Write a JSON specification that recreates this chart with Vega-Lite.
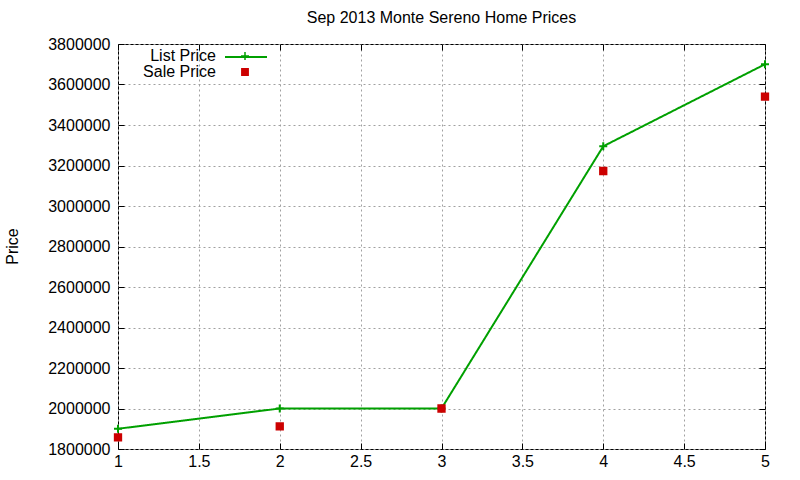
{
  "$schema": "https://vega.github.io/schema/vega-lite/v6.json",
  "autosize": "none",
  "width": 647,
  "height": 405,
  "padding": {"left": 118, "top": 44, "right": 35, "bottom": 31},
  "background": "white",
  "config": {
    "font": "Liberation Sans",
    "view": {"stroke": "black", "strokeWidth": 1},
    "axis": {
      "labelFont": "Liberation Sans",
      "labelFontSize": 16,
      "labelColor": "black",
      "labelFlush": false,
      "titleFont": "Liberation Sans",
      "titleFontSize": 16,
      "titleFontWeight": "normal",
      "titleColor": "black",
      "domain": false,
      "tickColor": "black",
      "gridColor": "#a0a0a0",
      "gridDash": [2, 3],
      "gridWidth": 1,
      "gridOpacity": 1
    }
  },
  "title": {
    "text": "Sep 2013 Monte Sereno Home Prices",
    "font": "Liberation Sans",
    "fontSize": 16,
    "fontWeight": "normal",
    "color": "black",
    "anchor": "middle",
    "offset": 9
  },
  "data": {
    "values": [
      {"x": 1, "price": 1900000, "series": "List Price"},
      {"x": 2, "price": 2000000, "series": "List Price"},
      {"x": 3, "price": 2000000, "series": "List Price"},
      {"x": 4, "price": 3295000, "series": "List Price"},
      {"x": 5, "price": 3700000, "series": "List Price"},
      {"x": 1, "price": 1857000, "series": "Sale Price"},
      {"x": 2, "price": 1912000, "series": "Sale Price"},
      {"x": 3, "price": 2000000, "series": "Sale Price"},
      {"x": 4, "price": 3173000, "series": "Sale Price"},
      {"x": 5, "price": 3540000, "series": "Sale Price"}
    ]
  },
  "layer": [
    {
      "transform": [{"filter": "datum.series == 'List Price'"}],
      "mark": {"type": "line", "color": "#00a000", "strokeWidth": 2},
      "encoding": {
        "x": {
          "field": "x", "type": "quantitative",
          "scale": {"domain": [1, 5], "nice": false, "zero": false},
          "axis": {"values": [1, 1.5, 2, 2.5, 3, 3.5, 4, 4.5, 5], "format": "~g", "title": null, "tickSize": -6, "labelPadding": 10, "grid": true}
        },
        "y": {
          "field": "price", "type": "quantitative",
          "scale": {"domain": [1800000, 3800000], "nice": false, "zero": false},
          "axis": {"values": [1800000, 2000000, 2200000, 2400000, 2600000, 2800000, 3000000, 3200000, 3400000, 3600000, 3800000], "format": "d", "title": "Price", "tickSize": -6, "labelPadding": 14, "grid": true, "titleX": -106, "titleY": 202, "titleAngle": -90, "titleBaseline": "middle", "titleAlign": "center"}
        },
        "strokeDash": {
          "field": "series", "type": "nominal",
          "scale": {"domain": ["List Price"], "range": [[1, 0]]},
          "legend": {
            "title": null,
            "orient": "none",
            "legendX": 106,
            "legendY": -9,
            "padding": 0,
            "symbolType": "stroke",
            "symbolSize": 1764,
            "symbolStrokeColor": "#00a000",
            "symbolStrokeWidth": 2,
            "labelExpr": "''"
          }
        }
      }
    },
    {
      "mark": {"type": "point", "opacity": 1, "strokeWidth": 2},
      "encoding": {
        "x": {
          "field": "x", "type": "quantitative",
          "axis": {"orient": "top", "values": [1, 1.5, 2, 2.5, 3, 3.5, 4, 4.5, 5], "labels": false, "title": null, "tickSize": -6, "grid": false}
        },
        "y": {
          "field": "price", "type": "quantitative",
          "axis": {"orient": "right", "values": [1800000, 2000000, 2200000, 2400000, 2600000, 2800000, 3000000, 3200000, 3400000, 3600000, 3800000], "labels": false, "title": null, "tickSize": -6, "grid": false}
        },
        "shape": {
          "field": "series", "type": "nominal",
          "scale": {"domain": ["List Price", "Sale Price"], "range": ["M-1,0L1,0M0,-1L0,1", "square"]},
          "legend": {
            "title": null,
            "orient": "none",
            "legendX": 119,
            "legendY": 4,
            "padding": 0,
            "rowPadding": 0,
            "labelFont": "Liberation Sans",
            "labelFontSize": 16,
            "labelColor": "black",
            "labelAlign": "right",
            "labelOffset": -37
          }
        },
        "fill": {
          "field": "series", "type": "nominal",
          "scale": {"domain": ["List Price", "Sale Price"], "range": ["transparent", "#cc0000"]}
        },
        "stroke": {
          "field": "series", "type": "nominal",
          "scale": {"domain": ["List Price", "Sale Price"], "range": ["#00a000", "#cc0000"]}
        },
        "size": {
          "field": "series", "type": "nominal",
          "scale": {"domain": ["List Price", "Sale Price"], "range": [64, 40]}
        }
      }
    }
  ],
  "resolve": {"axis": {"x": "independent", "y": "independent"}}
}
